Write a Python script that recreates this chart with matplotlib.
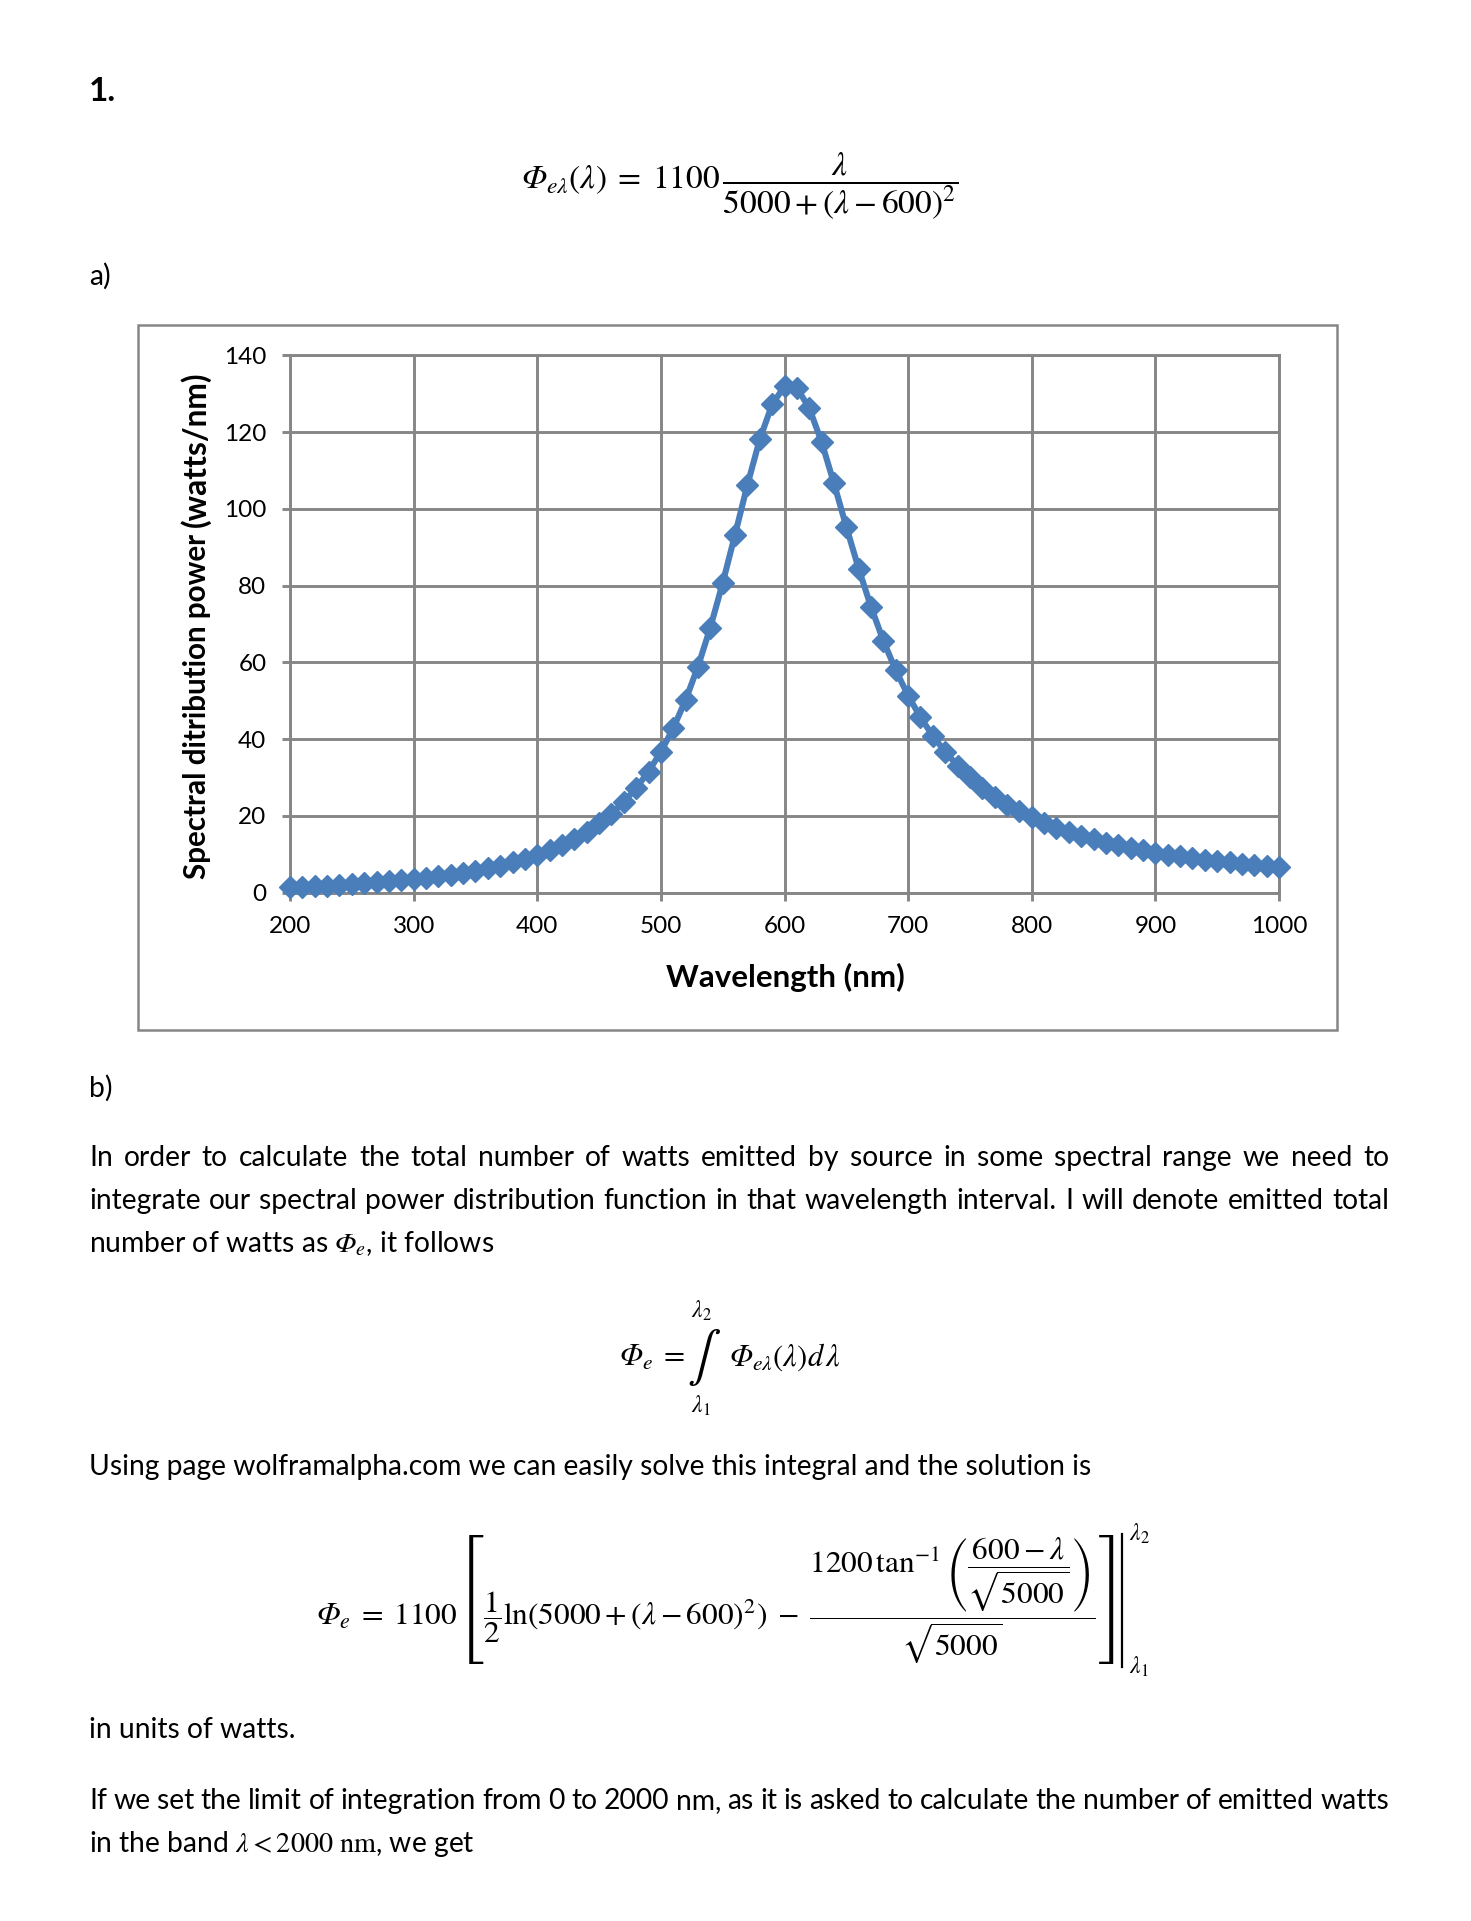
import matplotlib
matplotlib.use("Agg")
import matplotlib.pyplot as plt
from matplotlib.lines import Line2D
from matplotlib.patches import Rectangle

plt.rcParams["font.family"] = ["Lato", "DejaVu Sans"]
# STIX for the maths; \mathsf is used as an italic slot so that capital Phi comes out slanted
plt.rcParams["mathtext.fontset"] = "custom"
plt.rcParams["mathtext.rm"] = "STIXGeneral"
plt.rcParams["mathtext.it"] = "STIXGeneral:italic"
plt.rcParams["mathtext.bf"] = "STIXGeneral:bold"
plt.rcParams["mathtext.sf"] = "STIXGeneral:italic"
plt.rcParams["mathtext.fallback"] = "stix"

# Data (one marker every 10 nm)
wavelength = [200, 210, 220, 230, 240, 250, 260, 270, 280, 290,
              300, 310, 320, 330, 340, 350, 360, 370, 380, 390,
              400, 410, 420, 430, 440, 450, 460, 470, 480, 490,
              500, 510, 520, 530, 540, 550, 560, 570, 580, 590,
              600, 610, 620, 630, 640, 650, 660, 670, 680, 690,
              700, 710, 720, 730, 740, 750, 760, 770, 780, 790,
              800, 810, 820, 830, 840, 850, 860, 870, 880, 890,
              900, 910, 920, 930, 940, 950, 960, 970, 980, 990, 1000]
power = [1.33, 1.47, 1.62, 1.78, 1.96, 2.16, 2.37, 2.61, 2.87, 3.16,
         3.47, 3.83, 4.22, 4.66, 5.15, 5.70, 6.33, 7.03, 7.83, 8.74,
         9.78, 10.97, 12.35, 13.95, 15.82, 18.00, 20.57, 23.61, 27.22, 31.52,
         36.67, 42.82, 50.18, 58.89, 69.07, 80.67, 93.33, 106.27, 118.15, 127.25,
         132.00, 131.57, 126.30, 117.46, 106.67, 95.33, 84.42, 74.44, 65.61, 57.94,
         51.33, 45.67, 40.82, 36.67, 33.09, 30.00, 27.32, 24.99, 22.94, 21.14,
         19.56, 18.15, 16.89, 15.77, 14.76, 13.85, 13.03, 12.29, 11.61, 10.99,
         10.42, 9.90, 9.42, 8.98, 8.57, 8.20, 7.85, 7.52, 7.22, 6.93, 6.67]
x_ticks = [200, 300, 400, 500, 600, 700, 800, 900, 1000]
y_ticks = [0, 20, 40, 60, 80, 100, 120, 140]

W, H = 1471, 1921
fig = plt.figure(figsize=(W / 100, H / 100), dpi=100)
r = fig.canvas.get_renderer()
gray = "#868686"
blue = "#4A7EBB"


def put(x, y, s, **kw):
    # x, y in page pixels, y measured from the top
    return fig.text(x / W, 1 - y / H, s, **kw)


def width(t):
    return t.get_window_extent(r).width


# body font size fitted on one plain line
using = "Using page wolframalpha.com we can easily solve this integral and the solution is"
t_using = put(89, 1475, using, fontsize=16, va="baseline")
body = 16 * 1008 / width(t_using)
t_using.set_fontsize(body)


def justify(y, line, x0=89, x1=1389):
    words = line.split()
    texts = [put(0, y, w, fontsize=body, va="baseline") for w in words]
    ws = [width(t) for t in texts]
    gap = (x1 - x0 - sum(ws)) / (len(words) - 1)
    x = x0
    for t, w in zip(texts, ws):
        t.set_x(x / W)
        x += w + gap


put(89, 101, "1.", fontsize=24, fontweight="bold", va="baseline")
put(740, 186, r"$\mathsf{\Phi}_{e\lambda}(\lambda)\;=\;1100\,\dfrac{\lambda}{5000 + (\lambda - 600)^2}$",
    fontsize=24, ha="center", va="center")
put(89, 285, "a)", fontsize=body, va="baseline")

# chart frame
fig.add_artist(Rectangle((138 / W, 1 - 1030 / H), (1337 - 138) / W, (1030 - 325) / H,
                         transform=fig.transFigure, fill=False, edgecolor=gray, lw=1.8))

ax = fig.add_axes([290 / W, 1 - 892.5 / H, (1279 - 290) / W, (892.5 - 355.5) / H])
ax.plot(wavelength, power, color=blue, lw=4.4, marker="D", ms=11,
        mec=blue, mfc=blue, clip_on=False, zorder=3)
ax.set_xlim(200, 1000)
ax.set_ylim(0, 140)
ax.set_xticks(x_ticks)
ax.set_yticks(y_ticks)
ax.set_axisbelow(True)
ax.grid(True, color=gray, lw=2.1)
for s in ax.spines.values():
    s.set_color(gray)
    s.set_linewidth(2.1)
ax.tick_params(direction="out", length=6, width=2.1, color=gray,
               labelsize=17.5, pad=11, labelcolor="black")

t_x = put(785, 977, "Wavelength (nm)", fontsize=20, fontweight="bold", ha="center", va="center")
t_x.set_fontsize(20 * 238 / width(t_x))

t_y = put(206, 879, "Spectral ditribution power", fontsize=20, fontweight="bold",
          rotation=90, rotation_mode="anchor", ha="left", va="baseline")
t_y.set_fontsize(20 * 347 / t_y.get_window_extent(r).height)
t_u = put(206, 527, "(watts/nm)", fontsize=16, fontweight="bold",
          rotation=90, rotation_mode="anchor", ha="left", va="baseline")
t_u.set_fontsize(16 * 156 / t_u.get_window_extent(r).height)

# part b
put(89, 1097, "b)", fontsize=body, va="baseline")
justify(1166, "In order to calculate the total number of watts emitted by source in some spectral range we need to")
justify(1209, "integrate our spectral power distribution function in that wavelength interval. I will denote emitted total")
put(89, 1252, r"number of watts as $\mathsf{\Phi}_e$, it follows", fontsize=body, va="baseline")

put(619, 1366, r"$\mathsf{\Phi}_e\;=$", fontsize=22, ha="left", va="baseline")
put(699, 1358, "\u222b", fontsize=36, family="STIXGeneral", ha="center", va="center")
put(729, 1366, r"$\mathsf{\Phi}_{e\lambda}(\lambda)d\,\lambda$", fontsize=22, ha="left", va="baseline")
put(701, 1311, r"$\lambda_2$", fontsize=17, ha="center", va="center")
put(701, 1406, r"$\lambda_1$", fontsize=17, ha="center", va="center")

big = (r"$\mathsf{\Phi}_e\;=\;1100\left[\dfrac{1}{2}\ln(5000+(\lambda-600)^2)\;-\;"
       r"\dfrac{1200\,\tan^{-1}\left(\dfrac{600-\lambda}{\sqrt{5000}}\right)}{\sqrt{5000}}\right]$")
t_big = put(316, 1600, big, fontsize=22.5, ha="left", va="center")
bb = t_big.get_window_extent(r)
xb = bb.x1 + 7
fig.add_artist(Line2D([xb / W, xb / W], [bb.y0 / H, bb.y1 / H], transform=fig.transFigure,
                      color="black", lw=1.6))
fig.text((xb + 7) / W, bb.y1 / H, r"$\lambda_2$", fontsize=17, ha="left", va="center")
fig.text((xb + 7) / W, bb.y0 / H, r"$\lambda_1$", fontsize=17, ha="left", va="center")

put(89, 1738, "in units of watts.", fontsize=body, va="baseline")
justify(1809, "If we set the limit of integration from 0 to 2000 nm, as it is asked to calculate the number of emitted watts")
put(89, 1852, r"in the band $\lambda < 2000\ \mathrm{nm}$, we get", fontsize=body, va="baseline")

fig.savefig("out.png", dpi=100, facecolor="white")
